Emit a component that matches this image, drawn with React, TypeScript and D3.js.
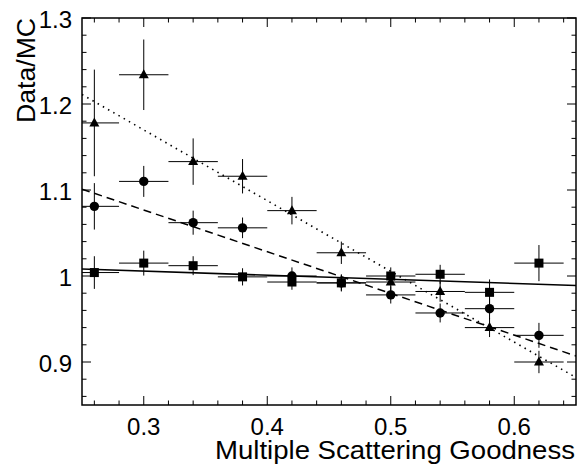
import React from "react";
import * as d3 from "d3";

const xCenters = [0.26, 0.3, 0.34, 0.38, 0.42, 0.46, 0.5, 0.54, 0.58, 0.62];
const xHalfWidth = 0.02;
const triY = [1.178, 1.234, 1.133, 1.116, 1.076, 1.027, 0.993, 0.982, 0.94, 0.9];
const triErr = [0.062, 0.041, 0.027, 0.02, 0.016, 0.013, 0.011, 0.012, 0.011, 0.013];
const circY = [1.081, 1.11, 1.062, 1.056, 1.0, 0.992, 0.978, 0.957, 0.962, 0.931];
const circErr = [0.027, 0.018, 0.014, 0.012, 0.01, 0.01, 0.01, 0.011, 0.012, 0.0145];
const sqY = [1.004, 1.015, 1.012, 0.999, 0.993, 0.992, 1.0, 1.002, 0.981, 1.015];
const sqErr = [0.019, 0.0145, 0.011, 0.01, 0.009, 0.009, 0.01, 0.011, 0.015, 0.021];
const fitX = [0.25, 0.65];
const fitDotted = [1.211, 0.882];
const fitDashed = [1.101, 0.907];
const fitSolid = [1.008, 0.989];
const xMajor = [0.3, 0.4, 0.5, 0.6];
const yMajor = [0.9, 1.0, 1.1, 1.2, 1.3];
const xTickLabels = ["0.3", "0.4", "0.5", "0.6"];
const yTickLabels = ["0.9", "1", "1.1", "1.2", "1.3"];

const W = 585, H = 464;
const L = 82, R = 576, T = 18, B = 405;
const font = "'Liberation Sans', Arial, Helvetica, sans-serif";

export default function App() {
  const x = d3.scaleLinear().domain([0.25, 0.65]).range([L, R]);
  const y = d3.scaleLinear().domain([0.85, 1.3]).range([B, T]);
  const xMinor = d3.range(13, 33).map((i) => i * 0.02).filter((v) => !xMajor.some((m) => Math.abs(m - v) < 1e-6));
  const yMinor = d3.range(43, 65).map((i) => i * 0.02).filter((v) => !yMajor.some((m) => Math.abs(m - v) < 1e-6));
  const line = d3.line<number>().x((_, i) => x(fitX[i])).y((d) => y(d));

  const errBars = (vals: number[], errs: number[], key: string) =>
    vals.map((v, i) => (
      <g key={key + i} stroke="#000" strokeWidth={1}>
        <line x1={x(xCenters[i] - xHalfWidth)} x2={x(xCenters[i] + xHalfWidth)} y1={y(v)} y2={y(v)} />
        <line x1={x(xCenters[i])} x2={x(xCenters[i])} y1={y(v - errs[i])} y2={y(v + errs[i])} />
      </g>
    ));

  return (
    <svg width={W} height={H} style={{ position: "absolute", left: 0, top: 0, background: "#fff" }} fontFamily={font}>
      <defs>
        <clipPath id="plot">
          <rect x={L} y={T} width={R - L} height={B - T} />
        </clipPath>
      </defs>
      <g clipPath="url(#plot)">
        {errBars(triY, triErr, "t")}
        {errBars(circY, circErr, "c")}
        {errBars(sqY, sqErr, "s")}
        <path d={line(fitDotted) || ""} fill="none" stroke="#000" strokeWidth={1.6} strokeDasharray="1.5,4.5" />
        <path d={line(fitDashed) || ""} fill="none" stroke="#000" strokeWidth={1.5} strokeDasharray="8,5" />
        <path d={line(fitSolid) || ""} fill="none" stroke="#000" strokeWidth={1.5} />
        {triY.map((v, i) => {
          const cx = x(xCenters[i]), cy = y(v);
          return <path key={"tm" + i} d={`M${cx},${cy - 5.5}L${cx + 5},${cy + 3.5}L${cx - 5},${cy + 3.5}Z`} fill="#000" />;
        })}
        {circY.map((v, i) => (
          <circle key={"cm" + i} cx={x(xCenters[i])} cy={y(v)} r={4.7} fill="#000" />
        ))}
        {sqY.map((v, i) => (
          <rect key={"sm" + i} x={x(xCenters[i]) - 4.5} y={y(v) - 4.5} width={9} height={9} fill="#000" />
        ))}
      </g>
      <rect x={L} y={T} width={R - L} height={B - T} fill="none" stroke="#000" strokeWidth={1.5} />
      <g stroke="#000" strokeWidth={1}>
        {xMajor.map((v) => (
          <g key={"xM" + v}>
            <line x1={x(v)} x2={x(v)} y1={B} y2={B - 9} />
            <line x1={x(v)} x2={x(v)} y1={T} y2={T + 9} />
          </g>
        ))}
        {xMinor.map((v) => (
          <g key={"xm" + v}>
            <line x1={x(v)} x2={x(v)} y1={B} y2={B - 4.5} />
            <line x1={x(v)} x2={x(v)} y1={T} y2={T + 4.5} />
          </g>
        ))}
        {yMajor.map((v) => (
          <g key={"yM" + v}>
            <line x1={L} x2={L + 9} y1={y(v)} y2={y(v)} />
            <line x1={R} x2={R - 9} y1={y(v)} y2={y(v)} />
          </g>
        ))}
        {yMinor.map((v) => (
          <g key={"ym" + v}>
            <line x1={L} x2={L + 4.5} y1={y(v)} y2={y(v)} />
            <line x1={R} x2={R - 4.5} y1={y(v)} y2={y(v)} />
          </g>
        ))}
      </g>
      <g fontSize={24} fill="#000">
        {xMajor.map((v, i) => (
          <text key={"xl" + v} x={x(v)} y={435} textAnchor="middle">{xTickLabels[i]}</text>
        ))}
        {yMajor.map((v, i) => (
          <text key={"yl" + v} x={72} y={y(v) + 10} textAnchor="end">{yTickLabels[i]}</text>
        ))}
      </g>
      <text x={575} y={459} textAnchor="end" fontSize={26} fill="#000" textLength={360} lengthAdjust="spacingAndGlyphs">Multiple Scattering Goodness</text>
      <text transform={`translate(35,18) rotate(-90)`} textAnchor="end" fontSize={26} fill="#000" textLength={105} lengthAdjust="spacingAndGlyphs">Data/MC</text>
    </svg>
  );
}
